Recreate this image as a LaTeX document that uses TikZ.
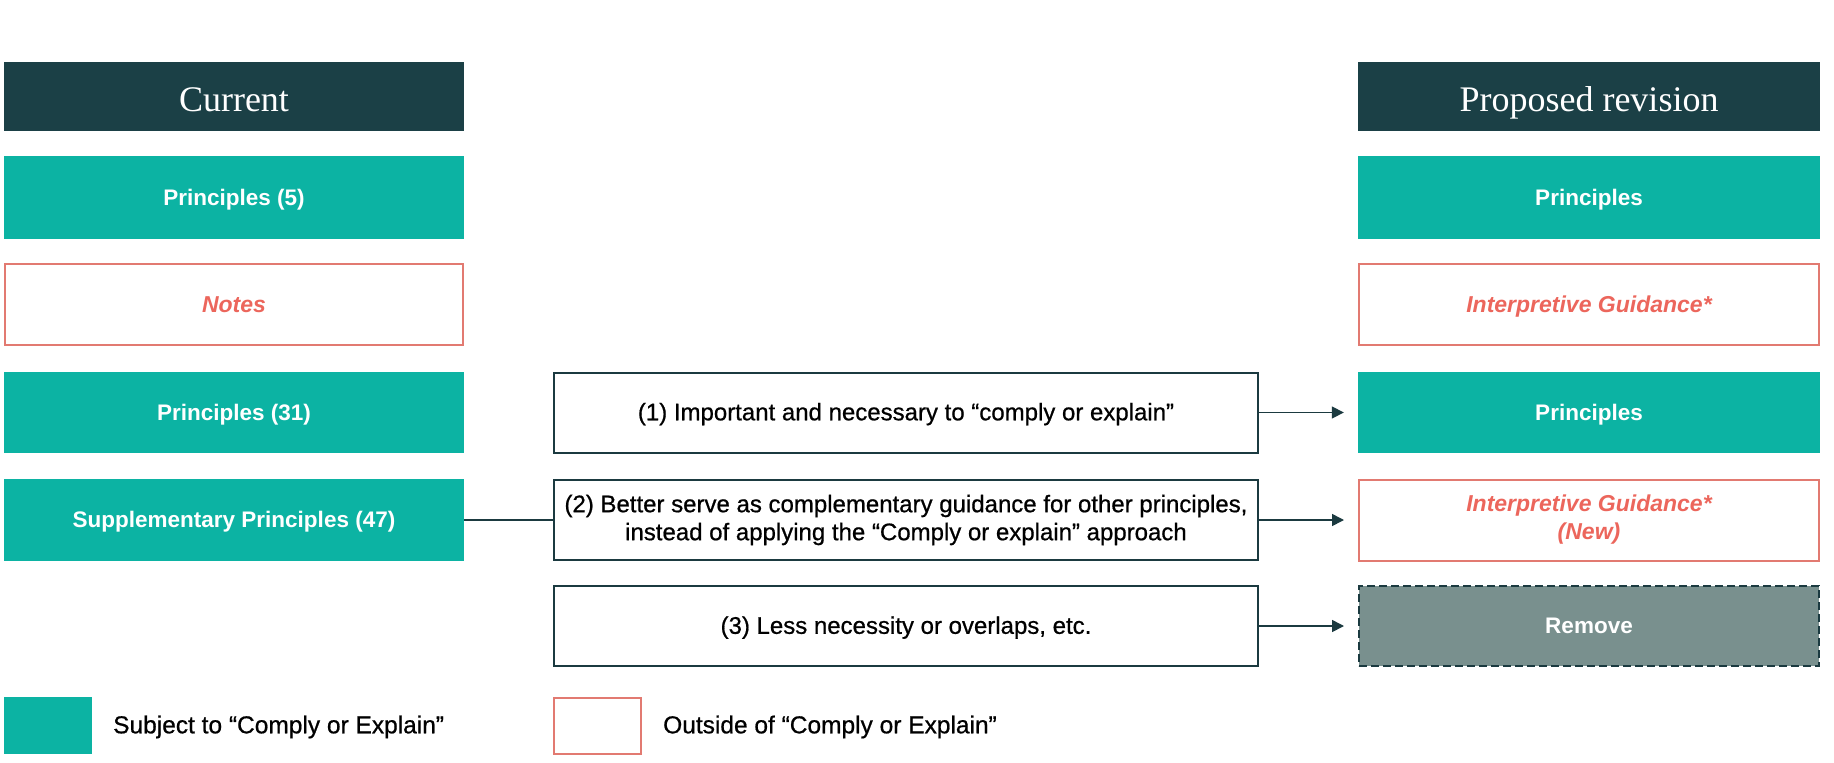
\documentclass[tikz,border=0pt]{standalone}
\usepackage{fontspec}
\setmainfont{Liberation Sans}
\newfontfamily\headfont{Liberation Serif}
\newfontfamily\medfont{Liberation Sans}[FakeBold=0.7]
\usetikzlibrary{arrows.meta}
\definecolor{hdr}{HTML}{1B4046}
\definecolor{tealc}{HTML}{0CB3A3}
\definecolor{coraltext}{HTML}{EC665C}
\definecolor{coralline}{HTML}{E27A71}
\definecolor{removefill}{HTML}{79908E}
\definecolor{darkline}{HTML}{1B3A40}
\tikzset{
  oneline/.style={text height=19pt, text depth=3.4pt},
  hdrbox/.style={fill=hdr, text=white, font=\headfont\fontsize{36}{40}\selectfont, minimum width=460pt, minimum height=69pt, inner sep=0pt, text height=30pt, text depth=0pt},
  tealbox/.style={fill=tealc, text=white, font=\bfseries\fontsize{22.5}{26}\selectfont, minimum width=460pt, minimum height=82pt, inner sep=0pt, oneline},
  coralbox/.style={draw=coralline, line width=2pt, fill=white, text=coraltext, font=\bfseries\itshape\fontsize{23}{28}\selectfont, minimum width=458pt, minimum height=81pt, inner sep=0pt, align=center},
  midbox/.style={draw=darkline, line width=2pt, text=black, font=\medfont\fontsize{24}{28}\selectfont, minimum width=704pt, minimum height=80pt, inner sep=0pt, align=center},
  removebox/.style={draw=darkline, dashed, dash pattern=on 8pt off 4pt, line width=2pt, fill=removefill, text=white, font=\bfseries\fontsize{22.5}{26}\selectfont, minimum width=460pt, minimum height=80pt, inner sep=0pt, oneline},
  conn/.style={draw=darkline, line width=1.6pt},
  arr/.style={conn, -{Triangle[length=12pt,width=12pt]}},
  legtext/.style={anchor=west, text=black, font=\medfont\fontsize{24.5}{28}\selectfont, inner sep=0pt, oneline}
}
\begin{document}
\begin{tikzpicture}[x=1pt,y=-1pt]
\useasboundingbox[fill=white] (0,0) rectangle (1834,763);
% left column
\node[hdrbox] (cur) at (234,96.5) {Current};
\node[tealbox, minimum height=83pt] (p5) at (234,197.5) {Principles (5)};
\node[coralbox, oneline] (notes) at (234,304.5) {Notes};
\node[tealbox, minimum height=81pt] (p31) at (234,412.5) {Principles (31)};
\node[tealbox] (sup) at (234,520) {Supplementary Principles (47)};
% right column
\node[hdrbox, minimum width=462pt] (prop) at (1589,96.5) {Proposed revision};
\node[tealbox, minimum width=462pt, minimum height=83pt] (rp1) at (1589,197.5) {Principles};
\node[coralbox, oneline, minimum width=460pt] (rig1) at (1589,304.5) {Interpretive Guidance*};
\node[tealbox, minimum width=462pt, minimum height=81pt] (rp2) at (1589,412.5) {Principles};
\node[coralbox, minimum width=460pt] (rig2) at (1589,520) {Interpretive Guidance*\\(New)};
\node[removebox] (rem) at (1589,626) {Remove};
% middle column
\node[midbox, oneline] (m1) at (906,412.5) {(1) Important and necessary to “comply or explain”};
\node[midbox] (m2) at (906,520) {(2) Better serve as complementary guidance for other principles,\\instead of applying the “Comply or explain” approach};
\node[midbox, oneline] (m3) at (906,626) {(3) Less necessity or overlaps, etc.};
% connectors
\draw[conn] (sup.east) -- (m2.west);
\draw[arr] (m1.east) -- ([xshift=-14pt]rp2.west);
\draw[arr] (m2.east) -- ([xshift=-14pt]rig2.west);
\draw[arr] (m3.east) -- ([xshift=-14pt]rem.west);
% legend
\node[fill=tealc, minimum width=88pt, minimum height=57pt, inner sep=0pt] (legA) at (48,725.5) {};
\node[legtext] (legAt) at (113,725.5) {Subject to “Comply or Explain”};
\node[draw=coralline, line width=2pt, fill=white, minimum width=87pt, minimum height=56pt, inner sep=0pt] (legB) at (597.5,725.5) {};
\node[legtext] (legBt) at (663,725.5) {Outside of “Comply or Explain”};
\end{tikzpicture}
\end{document}
